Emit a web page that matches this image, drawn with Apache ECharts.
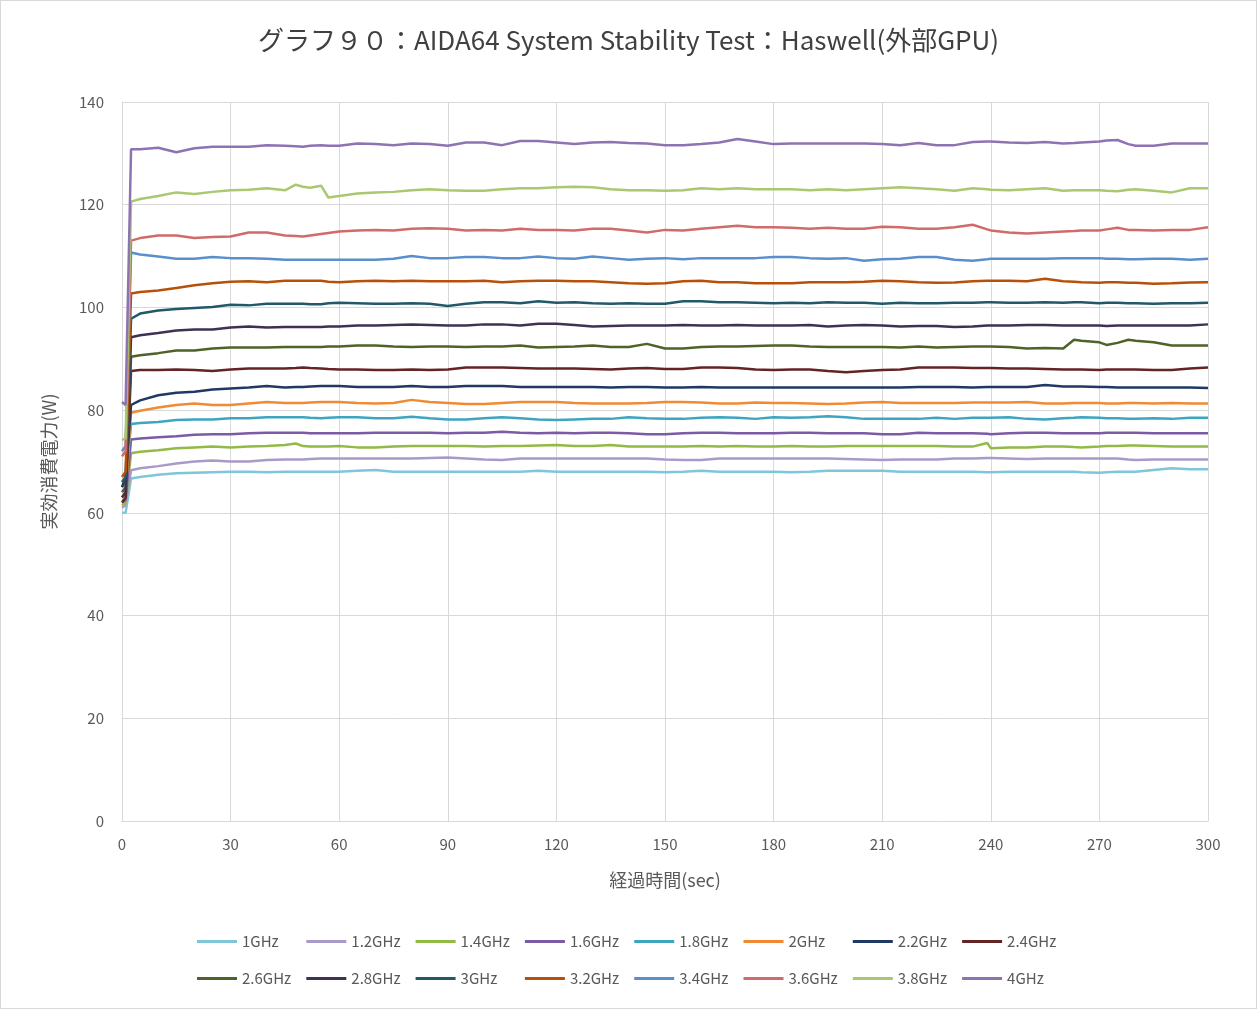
<!DOCTYPE html>
<html>
<head>
<meta charset="utf-8">
<script src="https://cdn.jsdelivr.net/npm/echarts@6/dist/echarts.min.js"></script>
<style>
html,body{margin:0;padding:0;background:#fff;}
#chart{width:1257px;height:1009px;box-sizing:border-box;border:1px solid #d9d9d9;}
</style>
</head>
<body>
<div id="chart"></div>
<script>
// time axis (sec)
const xs = [0,1,2.5,5,10,15,20,25,30,35,40,45,48,50,52,55,57,60,
  65,70,75,80,85,90,95,100,105,110,115,120,
  125,130,135,140,145,150,155,160,165,170,175,180,
  185,190,195,200,205,210,215,220,225,230,235,239,240,
  245,250,255,260,263,265,270,272,275,278,280,285,290,295,300];

const seriesNames = ["1GHz","1.2GHz","1.4GHz","1.6GHz","1.8GHz","2GHz","2.2GHz","2.4GHz",
  "2.6GHz","2.8GHz","3GHz","3.2GHz","3.4GHz","3.6GHz","3.8GHz","4GHz"];

const g10 = [60.0,60.0,66.7,67.0,67.4,67.7,67.8,67.9,68.0,68.0,67.9,68.0,68.0,68.0,68.0,68.0,68.0,68.0,
  68.2,68.35,68.0,68.0,68.0,68.0,68.0,68.0,68.0,68.0,68.2,68.0,
  68.0,68.0,68.0,68.0,68.0,67.9,68.0,68.2,68.0,68.0,68.0,68.0,
  67.9,68.0,68.2,68.2,68.2,68.2,68.0,68.0,68.0,68.0,68.0,67.9,67.9,
  68.0,68.0,68.0,68.0,68.0,67.9,67.8,67.9,68.0,68.0,68.0,68.35,68.7,68.5,68.5];
const g12 = [61.0,61.5,68.3,68.7,69.1,69.6,70.0,70.2,70.0,70.0,70.3,70.4,70.4,70.4,70.5,70.6,70.6,70.6,
  70.6,70.6,70.6,70.6,70.7,70.8,70.6,70.4,70.3,70.6,70.6,70.6,
  70.6,70.6,70.6,70.6,70.6,70.4,70.3,70.3,70.6,70.6,70.6,70.6,
  70.6,70.6,70.6,70.5,70.4,70.3,70.4,70.4,70.4,70.6,70.6,70.7,70.7,
  70.6,70.5,70.6,70.6,70.6,70.6,70.6,70.6,70.6,70.4,70.3,70.4,70.4,70.4,70.4];
const g14 = [61.5,62.0,71.6,71.9,72.2,72.6,72.75,72.9,72.75,72.9,73.0,73.2,73.5,73.0,72.9,72.9,72.9,73.0,
  72.75,72.75,72.9,73.0,73.0,73.0,73.0,72.9,73.0,73.0,73.1,73.2,
  73.0,73.0,73.2,72.9,72.9,72.9,72.9,73.0,72.9,73.0,72.9,72.9,
  73.0,72.9,72.9,73.0,73.0,73.0,73.0,73.0,73.0,72.9,72.9,73.6,72.6,
  72.75,72.75,72.9,72.9,72.8,72.75,72.9,73.0,73.0,73.1,73.1,73.0,72.9,72.9,72.9];
const g16 = [62.0,62.5,74.3,74.5,74.7,74.9,75.2,75.3,75.3,75.5,75.6,75.6,75.6,75.6,75.5,75.5,75.5,75.5,
  75.5,75.6,75.6,75.6,75.6,75.5,75.6,75.6,75.8,75.6,75.5,75.6,
  75.5,75.6,75.6,75.5,75.3,75.3,75.5,75.6,75.6,75.5,75.5,75.5,
  75.6,75.6,75.5,75.5,75.5,75.3,75.3,75.6,75.5,75.5,75.5,75.4,75.3,
  75.5,75.6,75.6,75.5,75.5,75.5,75.5,75.6,75.6,75.6,75.6,75.5,75.5,75.5,75.5];
const g18 = [65.0,66.0,77.3,77.5,77.7,78.1,78.2,78.2,78.4,78.4,78.6,78.6,78.6,78.6,78.5,78.4,78.5,78.6,
  78.6,78.4,78.4,78.7,78.4,78.2,78.2,78.4,78.6,78.4,78.2,78.1,
  78.2,78.3,78.3,78.6,78.4,78.3,78.3,78.5,78.6,78.5,78.3,78.6,
  78.5,78.6,78.8,78.6,78.3,78.3,78.3,78.3,78.5,78.3,78.5,78.5,78.5,
  78.6,78.3,78.2,78.4,78.5,78.6,78.5,78.4,78.4,78.3,78.3,78.4,78.3,78.5,78.5];
const g20 = [63.0,64.0,79.5,79.9,80.5,81.0,81.3,81.0,81.0,81.3,81.6,81.4,81.4,81.4,81.5,81.6,81.6,81.6,
  81.4,81.3,81.4,82.0,81.6,81.4,81.2,81.2,81.4,81.6,81.6,81.6,
  81.4,81.3,81.3,81.3,81.4,81.6,81.6,81.5,81.3,81.3,81.5,81.4,
  81.4,81.3,81.2,81.3,81.5,81.6,81.4,81.4,81.4,81.4,81.5,81.5,81.5,
  81.5,81.6,81.3,81.3,81.4,81.4,81.4,81.3,81.3,81.4,81.4,81.3,81.4,81.3,81.3];
const g22 = [65.0,67.0,81.0,81.9,82.9,83.4,83.6,84.0,84.2,84.4,84.7,84.4,84.5,84.5,84.6,84.7,84.7,84.7,
  84.5,84.5,84.5,84.7,84.5,84.5,84.7,84.7,84.7,84.5,84.5,84.5,
  84.5,84.5,84.4,84.5,84.5,84.4,84.4,84.5,84.4,84.4,84.4,84.4,
  84.4,84.4,84.4,84.4,84.4,84.4,84.4,84.5,84.5,84.5,84.4,84.5,84.5,
  84.5,84.5,84.9,84.6,84.6,84.6,84.5,84.5,84.4,84.4,84.4,84.4,84.4,84.4,84.3];
const g24 = [62.0,63.0,87.6,87.8,87.8,87.9,87.8,87.6,87.9,88.1,88.1,88.1,88.2,88.3,88.2,88.1,88.0,87.9,
  87.9,87.8,87.8,87.9,87.8,87.9,88.3,88.3,88.3,88.2,88.1,88.1,
  88.1,88.0,87.9,88.1,88.2,88.0,88.0,88.3,88.3,88.2,87.9,87.8,
  87.9,87.9,87.6,87.4,87.6,87.8,87.9,88.3,88.3,88.3,88.2,88.2,88.2,
  88.1,88.1,88.0,87.9,87.9,87.9,87.8,87.9,87.9,87.9,87.9,87.8,87.8,88.1,88.3];
const g26 = [64.0,65.0,90.4,90.7,91.1,91.6,91.6,92.0,92.2,92.2,92.2,92.3,92.3,92.3,92.3,92.3,92.4,92.4,
  92.6,92.6,92.4,92.3,92.4,92.4,92.3,92.4,92.4,92.6,92.2,92.3,
  92.4,92.6,92.3,92.3,92.9,92.0,92.0,92.3,92.4,92.4,92.5,92.6,
  92.6,92.4,92.3,92.3,92.3,92.3,92.2,92.4,92.2,92.3,92.4,92.4,92.4,
  92.3,92.0,92.1,92.0,93.7,93.5,93.2,92.7,93.1,93.7,93.5,93.2,92.6,92.6,92.6];
const g28 = [63.0,64.0,94.2,94.6,95.0,95.5,95.7,95.7,96.1,96.3,96.1,96.2,96.2,96.2,96.2,96.2,96.3,96.3,
  96.5,96.5,96.6,96.7,96.6,96.5,96.5,96.7,96.7,96.5,96.8,96.8,
  96.6,96.3,96.4,96.5,96.5,96.5,96.6,96.5,96.5,96.6,96.5,96.5,
  96.5,96.6,96.3,96.5,96.6,96.5,96.3,96.4,96.4,96.2,96.3,96.5,96.5,
  96.5,96.6,96.6,96.5,96.5,96.5,96.5,96.4,96.5,96.5,96.5,96.5,96.5,96.5,96.7];
const g30 = [66.0,67.0,97.8,98.8,99.4,99.7,99.9,100.1,100.5,100.4,100.7,100.7,100.7,100.7,100.6,100.6,100.8,100.9,
  100.8,100.7,100.7,100.8,100.7,100.3,100.7,101.0,101.0,100.8,101.2,100.9,
  101.0,100.8,100.7,100.8,100.7,100.7,101.2,101.2,101.0,101.0,100.9,100.8,
  100.9,100.8,101.0,100.9,100.9,100.7,100.9,100.8,100.8,100.9,100.9,101.0,101.0,
  100.9,100.9,101.0,100.9,101.0,101.0,100.8,100.9,100.9,100.8,100.8,100.7,100.8,100.8,100.9];
const g32 = [67.0,68.0,102.7,103.0,103.3,103.8,104.3,104.7,105.0,105.1,104.9,105.2,105.2,105.2,105.2,105.2,105.0,104.9,
  105.1,105.2,105.1,105.2,105.1,105.1,105.1,105.2,104.9,105.1,105.2,105.2,
  105.1,105.1,104.9,104.7,104.6,104.7,105.1,105.2,104.9,104.9,104.7,104.7,
  104.7,104.9,104.9,104.9,105.0,105.2,105.1,104.9,104.8,104.85,105.1,105.2,105.2,
  105.2,105.1,105.6,105.1,105.0,104.9,104.8,104.9,104.9,104.8,104.8,104.6,104.7,104.85,104.9];
const g34 = [72.0,73.0,110.7,110.3,109.9,109.5,109.5,109.8,109.6,109.6,109.5,109.3,109.3,109.3,109.3,109.3,109.3,109.3,
  109.3,109.3,109.5,110.0,109.6,109.6,109.8,109.8,109.6,109.6,109.9,109.6,
  109.5,109.9,109.6,109.3,109.5,109.6,109.4,109.6,109.6,109.6,109.6,109.8,
  109.8,109.6,109.5,109.6,109.1,109.4,109.5,109.8,109.8,109.3,109.1,109.4,109.5,
  109.5,109.5,109.5,109.6,109.6,109.6,109.6,109.5,109.5,109.4,109.4,109.5,109.5,109.3,109.5];
const g36 = [71.0,72.0,113.0,113.5,114.0,114.0,113.5,113.7,113.8,114.6,114.6,114.0,113.9,113.8,114.0,114.3,114.5,114.8,
  115.0,115.1,115.0,115.3,115.4,115.3,115.0,115.1,115.0,115.3,115.1,115.1,
  115.0,115.3,115.3,115.0,114.6,115.1,115.0,115.3,115.6,115.9,115.6,115.6,
  115.5,115.3,115.5,115.3,115.3,115.7,115.6,115.3,115.3,115.6,116.1,115.2,115.0,
  114.6,114.4,114.6,114.8,114.9,115.0,115.0,115.2,115.5,115.1,115.1,115.0,115.1,115.1,115.6];
const g38 = [74.2,74.5,120.6,121.1,121.7,122.4,122.1,122.5,122.8,122.9,123.2,122.8,123.9,123.5,123.3,123.7,121.4,121.7,
  122.2,122.4,122.5,122.8,123.0,122.8,122.7,122.7,123.0,123.2,123.2,123.4,
  123.5,123.4,123.0,122.8,122.8,122.7,122.8,123.2,123.0,123.2,123.0,123.0,
  123.0,122.8,123.0,122.8,123.0,123.2,123.4,123.2,123.0,122.7,123.2,123.0,122.9,
  122.8,123.0,123.2,122.7,122.8,122.8,122.8,122.7,122.6,122.9,123.0,122.7,122.4,123.2,123.2];
const g40 = [81.6,81.0,130.8,130.8,131.1,130.2,131.0,131.3,131.3,131.3,131.6,131.5,131.4,131.3,131.5,131.6,131.5,131.5,
  131.9,131.8,131.6,131.9,131.8,131.5,132.1,132.1,131.6,132.4,132.4,132.1,
  131.8,132.1,132.2,132.0,131.9,131.6,131.6,131.8,132.1,132.8,132.3,131.8,
  131.9,131.9,131.9,131.9,131.9,131.8,131.6,132.0,131.6,131.6,132.2,132.3,132.3,
  132.1,132.0,132.2,131.9,132.0,132.1,132.3,132.5,132.6,131.8,131.5,131.5,131.9,131.9,131.9];

const seriesValues = [g10,g12,g14,g16,g18,g20,g22,g24,g26,g28,g30,g32,g34,g36,g38,g40];
const seriesColors = ["#7FC6DB","#A99BC8","#93B946","#7B5AA6","#3EA5C0","#F08A35","#1F3864","#632423",
  "#4F6228","#3F3151","#215968","#B7510A","#5B8FCB","#D06B69","#A9C870","#8E73B3"];

const xTicks = {min:0, max:300, interval:30};
const yTicks = {min:0, max:140, interval:20};

const FONT = '"Noto Sans CJK JP", "Noto Sans", sans-serif';
const chart = echarts.init(document.getElementById('chart'));

const series = seriesNames.map((n,i)=>({
  name:n, type:'line', showSymbol:false, symbol:'none', smooth:false,
  color: seriesColors[i],
  lineStyle:{width:2.5, color: seriesColors[i]},
  data: xs.map((x,k)=>[x, seriesValues[i][k]]),
  z: 2+i
}));

// one legend per item, laid out in fixed columns like the original
const legends = seriesNames.map((n,i)=>({
  data:[{name:n, icon:'rect'}],
  left: 196 + (i % 8) * 109.3,
  top: i < 8 ? 933 : 970,
  padding:0,
  itemWidth:40, itemHeight:3,
  textStyle:{fontFamily:FONT, fontSize:15, color:'#595959'},
  selectedMode:false
}));

chart.setOption({
  animation:false,
  backgroundColor:'#ffffff',
  title:{
    text:'グラフ９０：AIDA64 System Stability Test：Haswell(外部GPU)',
    left:'center', top:21,
    textStyle:{fontFamily:FONT, fontSize:26, fontWeight:'normal', color:'#404040'}
  },
  grid:{left:121, right:48, top:101, bottom:187, containLabel:false},
  xAxis:{
    type:'value', min:xTicks.min, max:xTicks.max, interval:xTicks.interval,
    name:'経過時間(sec)', nameLocation:'middle', nameGap:50,
    nameTextStyle:{fontFamily:FONT, fontSize:18, color:'#595959'},
    axisLine:{show:true, lineStyle:{color:'#d9d9d9', width:1}},
    axisTick:{show:false},
    axisLabel:{fontFamily:FONT, fontSize:15, color:'#595959', margin:16},
    splitLine:{show:true, lineStyle:{color:'#d9d9d9', width:1}}
  },
  yAxis:{
    type:'value', min:yTicks.min, max:yTicks.max, interval:yTicks.interval,
    name:'実効消費電力(W)', nameLocation:'middle', nameGap:64, nameRotate:90,
    nameTextStyle:{fontFamily:FONT, fontSize:18, color:'#595959'},
    axisLine:{show:true, lineStyle:{color:'#d9d9d9', width:1}},
    axisTick:{show:false},
    axisLabel:{fontFamily:FONT, fontSize:15, color:'#595959', margin:18},
    splitLine:{show:true, lineStyle:{color:'#d9d9d9', width:1}}
  },
  legend: legends,
  series: series
});
</script>
</body>
</html>
